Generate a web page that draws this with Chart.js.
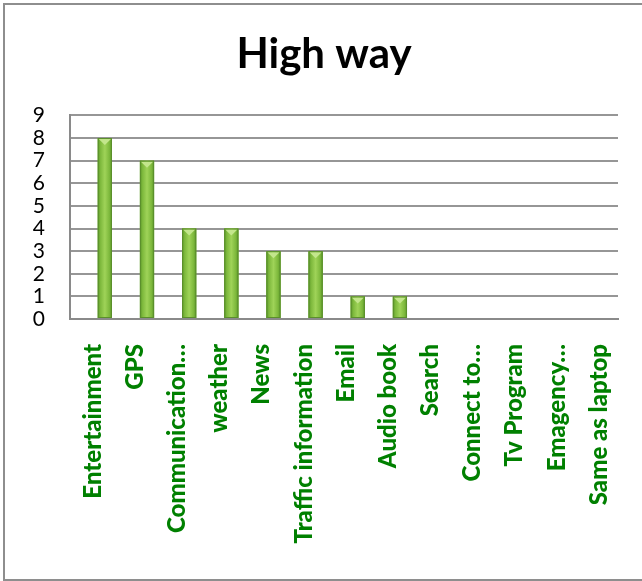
<!DOCTYPE html>
<html>
<head>
<meta charset="utf-8">
<title>High way</title>
<script src="https://cdn.jsdelivr.net/npm/chart.js@4/dist/chart.umd.min.js"></script>
<style>
  html, body { margin: 0; padding: 0; background: #ffffff; }
  #wrap { width: 642px; height: 581px; }
</style>
</head>
<body>
<div id="wrap"><canvas id="chart" width="642" height="581"></canvas></div>
<script>
// Uses of the device while driving on the highway (number of answers)
const categories = [
  'Entertainment', 'GPS', 'Communication…', 'weather', 'News',
  'Traffic information', 'Email', 'Audio book', 'Search',
  'Connect to…', 'Tv Program', 'Emagency…', 'Same as laptop'
];
const highwayCounts = [8, 7, 4, 4, 3, 3, 1, 1, 0, 0, 0, 0, 0];
const yMin = 0;
const yMax = 9;
const yStep = 1;

// Clustered column layout: the two leading series hold no values here,
// so the highway series sits in the third slot of every category.
const leadingSeriesA = [];
const leadingSeriesB = [];

const labelFont = 'Lato, "Open Sans", sans-serif';

// White page with the grey chart frame
const framePlugin = {
  id: 'frame',
  beforeDraw(chart) {
    const ctx = chart.ctx;
    ctx.save();
    ctx.fillStyle = '#ffffff';
    ctx.fillRect(0, 0, chart.width, chart.height);
    ctx.strokeStyle = '#8e8e8e';
    ctx.lineWidth = 2;
    ctx.strokeRect(4, 4, 700, 576);
    ctx.restore();
  }
};

// Rounded, bevelled look of the green columns, drawn over each bar element
const columnShading = {
  id: 'columnShading',
  afterDatasetDraw(chart, args) {
    if (args.index !== 2) return;
    const ctx = chart.ctx;
    args.meta.data.forEach(bar => {
      const { x, y, base, width } = bar.getProps(['x', 'y', 'base', 'width'], true);
      const h = base - y;
      if (h < 1) return;
      const left = x - width / 2;
      const right = x + width / 2;
      ctx.save();
      const g = ctx.createLinearGradient(left, 0, right, 0);
      g.addColorStop(0, '#5a9628');
      g.addColorStop(0.18, '#7db83c');
      g.addColorStop(0.5, '#9fd358');
      g.addColorStop(0.82, '#7db83c');
      g.addColorStop(1, '#5a9628');
      ctx.fillStyle = g;
      ctx.fillRect(left, y, width, h);
      // top bevel
      ctx.beginPath();
      ctx.moveTo(left + 1, y + 1);
      ctx.lineTo(right - 1, y + 1);
      ctx.lineTo(x, y + Math.min(7, h / 2));
      ctx.closePath();
      ctx.fillStyle = '#c3e68c';
      ctx.fill();
      // outline
      ctx.strokeStyle = '#5b8f2c';
      ctx.lineWidth = 1;
      ctx.strokeRect(left + 0.5, y + 0.5, width - 1, h - 1);
      ctx.restore();
    });
  }
};

new Chart(document.getElementById('chart'), {
  type: 'bar',
  data: {
    labels: categories,
    datasets: [
      { label: 'A', data: leadingSeriesA, backgroundColor: 'rgba(0,0,0,0)', borderWidth: 0 },
      { label: 'B', data: leadingSeriesB, backgroundColor: 'rgba(0,0,0,0)', borderWidth: 0 },
      {
        label: 'High way',
        data: highwayCounts,
        backgroundColor: '#8cc63f',
        borderWidth: 0,
        categoryPercentage: 0.98,
        barPercentage: 1.03
      }
    ]
  },
  options: {
    responsive: false,
    animation: false,
    layout: { padding: { left: 30, right: 24, top: 0, bottom: 0 } },
    plugins: {
      legend: { display: false },
      tooltip: { enabled: false },
      title: {
        display: true,
        text: 'High way',
        color: '#000000',
        font: { family: labelFont, size: 42, weight: 'bold' },
        padding: { top: 29, bottom: 36 }
      }
    },
    scales: {
      x: {
        grid: { display: false, drawTicks: false },
        border: { display: true, color: '#8a8a8a', width: 2 },
        ticks: {
          autoSkip: false,
          minRotation: 90,
          maxRotation: 90,
          padding: 25,
          labelOffset: 2,
          color: '#008000',
          font: { family: labelFont, size: 24, weight: '900' }
        },
        afterFit(scale) {
          scale.height = 262;
          scale.paddingLeft = 0;
          scale.paddingRight = 0;
        }
      },
      y: {
        min: yMin,
        max: yMax,
        grid: { color: '#969696', lineWidth: 2, drawTicks: false },
        border: { display: true, color: '#8a8a8a', width: 2 },
        ticks: {
          autoSkip: false,
          stepSize: yStep,
          padding: 25,
          color: '#000000',
          font: { family: labelFont, size: 21 }
        },
        afterFit(scale) { scale.width = 40; }
      }
    }
  },
  plugins: [framePlugin, columnShading]
});
</script>
</body>
</html>
